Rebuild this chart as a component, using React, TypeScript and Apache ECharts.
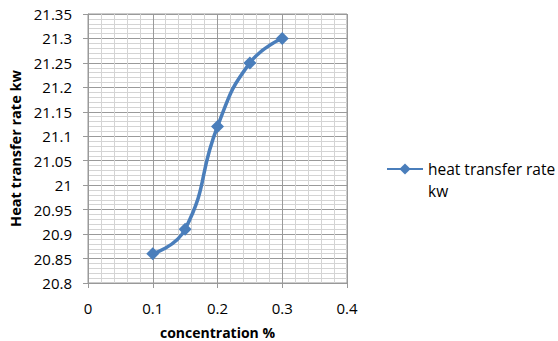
import React, { useEffect, useRef } from "react";
import * as echarts from "echarts";

const concentration = [0.1, 0.15, 0.2, 0.25, 0.3];
const heatTransfer = [20.86, 20.91, 21.12, 21.25, 21.3];
const seriesName = "heat transfer rate kw";
const xTitle = "concentration %";
const yTitle = "Heat transfer rate kw";

const FONT = "'Open Sans', 'Noto Sans', sans-serif";
const BLUE = "#4a7ebb";

export default function App() {
  const ref = useRef<HTMLDivElement>(null);
  useEffect(() => {
    if (!ref.current) return;
    const chart = echarts.init(ref.current, undefined, { renderer: "svg" });
    const fmt = (v: number) => String(+v.toFixed(2));
    chart.setOption({
      animation: false,
      textStyle: { fontFamily: FONT },
      grid: {
        left: 88,
        top: 14,
        width: 259,
        height: 269,
        show: true,
        borderColor: "#999",
        borderWidth: 1,
        outerBoundsMode: "none",
        containLabel: false,
      },
      legend: {
        left: 386,
        top: 136,
        padding: 0,
        itemWidth: 36,
        itemHeight: 14,
        itemGap: 4,
        data: [seriesName],
        formatter: () => "\nheat transfer rate\nkw",
        textStyle: { fontSize: 15.5, color: "#000", fontFamily: FONT, lineHeight: 22 },
      },
      xAxis: {
        type: "value",
        min: 0,
        max: 0.4,
        interval: 0.1,
        name: xTitle,
        nameLocation: "middle",
        nameGap: 41,
        nameTextStyle: { fontSize: 14, lineHeight: 16, fontWeight: "bold", color: "#000", fontFamily: FONT },
        axisLine: { show: true, lineStyle: { color: "#999" } },
        axisTick: { show: true, length: 5, lineStyle: { color: "#999" } },
        axisLabel: { fontSize: 15, color: "#000", margin: 17, formatter: fmt },
        splitLine: { show: true, lineStyle: { color: "#9a9a9a", width: 1 } },
        minorTick: { show: false, splitNumber: 5 },
        minorSplitLine: { show: true, lineStyle: { color: "#d4d4d4", width: 1 } },
      },
      yAxis: {
        type: "value",
        min: 20.8,
        max: 21.35,
        interval: 0.05,
        name: yTitle,
        nameLocation: "middle",
        nameGap: 65,
        nameTextStyle: { fontSize: 14.5, fontWeight: "bold", color: "#000", fontFamily: FONT },
        axisLine: { show: true, lineStyle: { color: "#999" } },
        axisTick: { show: true, length: 5, lineStyle: { color: "#999" } },
        axisLabel: { fontSize: 15, color: "#000", margin: 16, formatter: fmt },
        splitLine: { show: true, lineStyle: { color: "#9a9a9a", width: 1 } },
        minorTick: { show: false, splitNumber: 5 },
        minorSplitLine: { show: true, lineStyle: { color: "#d4d4d4", width: 1 } },
      },
      series: [
        {
          name: seriesName,
          type: "line",
          smooth: 0.5,
          data: concentration.map((c, i) => [c, heatTransfer[i]]),
          symbol: "diamond",
          symbolSize: 13,
          lineStyle: { color: BLUE, width: 3.5 },
          itemStyle: { color: BLUE },
        },
      ],
    });
    return () => chart.dispose();
  }, []);
  return <div ref={ref} style={{ width: 558, height: 341, position: "absolute", left: 0, top: 0, background: "#fff" }} />;
}
